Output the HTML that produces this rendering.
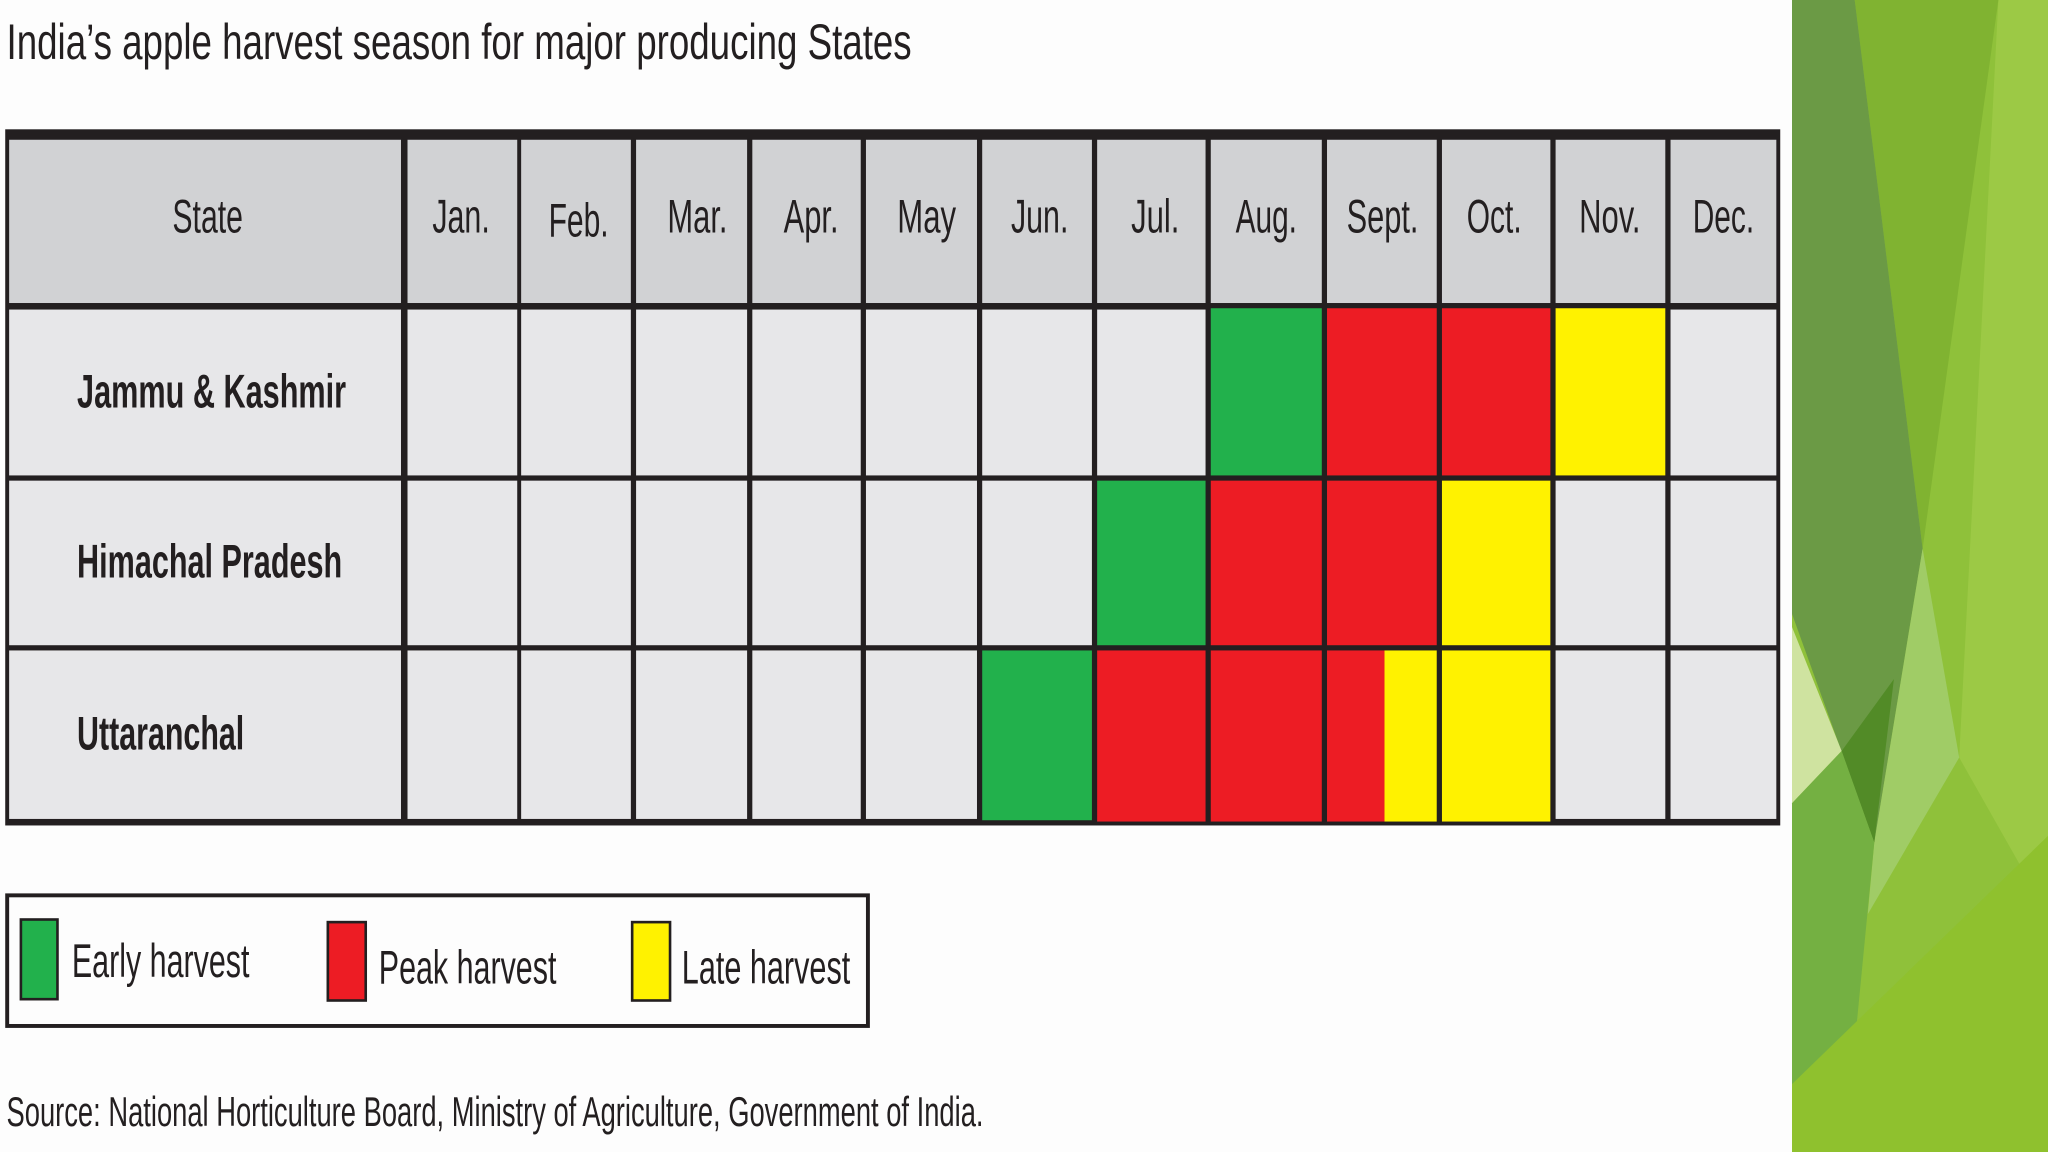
<!DOCTYPE html>
<html><head><meta charset="utf-8"><style>
html,body{margin:0;padding:0;background:#fdfdfd;}
svg{display:block;}
text{font-family:"Liberation Sans Narrow","Liberation Sans",sans-serif;fill:#231f20;}
</style></head><body>
<svg width="2048" height="1152" viewBox="0 0 1568 882" xmlns="http://www.w3.org/2000/svg" preserveAspectRatio="none">
<rect x="0" y="0" width="1568" height="882" fill="#fdfdfd"/>
<rect x="1372" y="0" width="196" height="882" fill="#8fc13a"/>
<polygon points="1530,0 1568,0 1568,700 1500,580" fill="#9cc945"/>
<polygon points="1420,0 1530,0 1472,420" fill="#80b331"/>
<polygon points="1372,0 1420,0 1472,420 1435,645 1372,470" fill="#6b9a45"/>
<polygon points="1472,420 1500,580 1430,700 1435,645" fill="#a0cc66"/>
<polygon points="1372,480 1410,575 1372,615" fill="#cfe3a0"/>
<polygon points="1410,575 1450,520 1435,645" fill="#528b27"/>
<polygon points="1372,615 1410,575 1435,645 1420,800 1372,830" fill="#74b042"/>
<polygon points="1372,830 1568,640 1568,882 1372,882" fill="#8fc12e"/>
<text x="5" y="45" font-size="38" textLength="693" lengthAdjust="spacingAndGlyphs">India’s apple harvest season for major producing States</text>
<rect x="4" y="99" width="1359" height="533" fill="#231f20"/>
<g fill="#d1d2d4">
<rect x="7" y="107" width="300" height="125"/>
<rect x="312" y="107" width="84" height="125"/><rect x="399" y="107" width="84" height="125"/><rect x="487" y="107" width="85" height="125"/><rect x="576" y="107" width="83" height="125"/><rect x="663" y="107" width="85" height="125"/><rect x="752" y="107" width="84" height="125"/><rect x="840" y="107" width="83" height="125"/><rect x="927" y="107" width="85" height="125"/><rect x="1016" y="107" width="84" height="125"/><rect x="1104" y="107" width="83" height="125"/><rect x="1191" y="107" width="84" height="125"/><rect x="1279" y="107" width="81" height="125"/>
</g>
<g fill="#e7e7e9">
<rect x="7" y="237" width="300" height="127"/><rect x="7" y="368" width="300" height="126"/><rect x="7" y="498" width="300" height="129"/>
<rect x="312" y="237" width="84" height="127"/><rect x="399" y="237" width="84" height="127"/><rect x="487" y="237" width="85" height="127"/><rect x="576" y="237" width="83" height="127"/><rect x="663" y="237" width="85" height="127"/><rect x="752" y="237" width="84" height="127"/><rect x="840" y="237" width="83" height="127"/><rect x="1279" y="237" width="81" height="127"/>
<rect x="312" y="368" width="84" height="126"/><rect x="399" y="368" width="84" height="126"/><rect x="487" y="368" width="85" height="126"/><rect x="576" y="368" width="83" height="126"/><rect x="663" y="368" width="85" height="126"/><rect x="752" y="368" width="84" height="126"/><rect x="1191" y="368" width="84" height="126"/><rect x="1279" y="368" width="81" height="126"/>
<rect x="312" y="498" width="84" height="129"/><rect x="399" y="498" width="84" height="129"/><rect x="487" y="498" width="85" height="129"/><rect x="576" y="498" width="83" height="129"/><rect x="663" y="498" width="85" height="129"/><rect x="1191" y="498" width="84" height="129"/><rect x="1279" y="498" width="81" height="129"/>
</g>
<rect x="927" y="236" width="85" height="128" fill="#22b14c"/>
<rect x="1016" y="236" width="84" height="128" fill="#ed1c24"/>
<rect x="1104" y="236" width="83" height="128" fill="#ed1c24"/>
<rect x="1191" y="236" width="84" height="128" fill="#fff200"/>
<rect x="840" y="368" width="83" height="126" fill="#22b14c"/>
<rect x="927" y="368" width="85" height="126" fill="#ed1c24"/>
<rect x="1016" y="368" width="84" height="126" fill="#ed1c24"/>
<rect x="1104" y="368" width="83" height="126" fill="#fff200"/>
<rect x="752" y="498" width="84" height="130" fill="#22b14c"/>
<rect x="840" y="498" width="83" height="131" fill="#ed1c24"/>
<rect x="927" y="498" width="85" height="131" fill="#ed1c24"/>
<rect x="1016" y="498" width="44" height="131" fill="#ed1c24"/>
<rect x="1060" y="498" width="40" height="131" fill="#fff200"/>
<rect x="1104" y="498" width="83" height="131" fill="#fff200"/>
<g font-size="36" lengthAdjust="spacingAndGlyphs">
<text x="132" y="178" textLength="54" lengthAdjust="spacingAndGlyphs">State</text>
<text x="331" y="178" textLength="44" lengthAdjust="spacingAndGlyphs">Jan.</text>
<text x="420" y="181" textLength="46" lengthAdjust="spacingAndGlyphs">Feb.</text>
<text x="511" y="178" textLength="46" lengthAdjust="spacingAndGlyphs">Mar.</text>
<text x="600" y="178" textLength="42" lengthAdjust="spacingAndGlyphs">Apr.</text>
<text x="687" y="178" textLength="45" lengthAdjust="spacingAndGlyphs">May</text>
<text x="774" y="178" textLength="44" lengthAdjust="spacingAndGlyphs">Jun.</text>
<text x="866" y="178" textLength="37" lengthAdjust="spacingAndGlyphs">Jul.</text>
<text x="946" y="178" textLength="47" lengthAdjust="spacingAndGlyphs">Aug.</text>
<text x="1031" y="178" textLength="55" lengthAdjust="spacingAndGlyphs">Sept.</text>
<text x="1123" y="178" textLength="42" lengthAdjust="spacingAndGlyphs">Oct.</text>
<text x="1209" y="178" textLength="47" lengthAdjust="spacingAndGlyphs">Nov.</text>
<text x="1296" y="178" textLength="47" lengthAdjust="spacingAndGlyphs">Dec.</text>
</g>
<g font-size="36" font-weight="bold">
<text x="59" y="312" textLength="206" lengthAdjust="spacingAndGlyphs">Jammu &amp; Kashmir</text>
<text x="59" y="442" textLength="203" lengthAdjust="spacingAndGlyphs">Himachal Pradesh</text>
<text x="59" y="574" textLength="128" lengthAdjust="spacingAndGlyphs">Uttaranchal</text>
</g>
<rect x="5.5" y="685.5" width="659" height="100" fill="#fdfdfd" stroke="#231f20" stroke-width="3"/>
<rect x="16" y="704" width="28" height="61" fill="#22b14c" stroke="#231f20" stroke-width="2"/>
<rect x="251" y="706" width="29" height="60" fill="#ed1c24" stroke="#231f20" stroke-width="2"/>
<rect x="484" y="706" width="29" height="60" fill="#fff200" stroke="#231f20" stroke-width="2"/>
<g font-size="36">
<text x="55" y="748" textLength="136" lengthAdjust="spacingAndGlyphs">Early harvest</text>
<text x="290" y="753" textLength="136" lengthAdjust="spacingAndGlyphs">Peak harvest</text>
<text x="522" y="753" textLength="129" lengthAdjust="spacingAndGlyphs">Late harvest</text>
</g>
<text x="5" y="862" font-size="32" textLength="748" lengthAdjust="spacingAndGlyphs">Source:  National Horticulture Board, Ministry of Agriculture, Government of India.</text>
</svg>
</body></html>
